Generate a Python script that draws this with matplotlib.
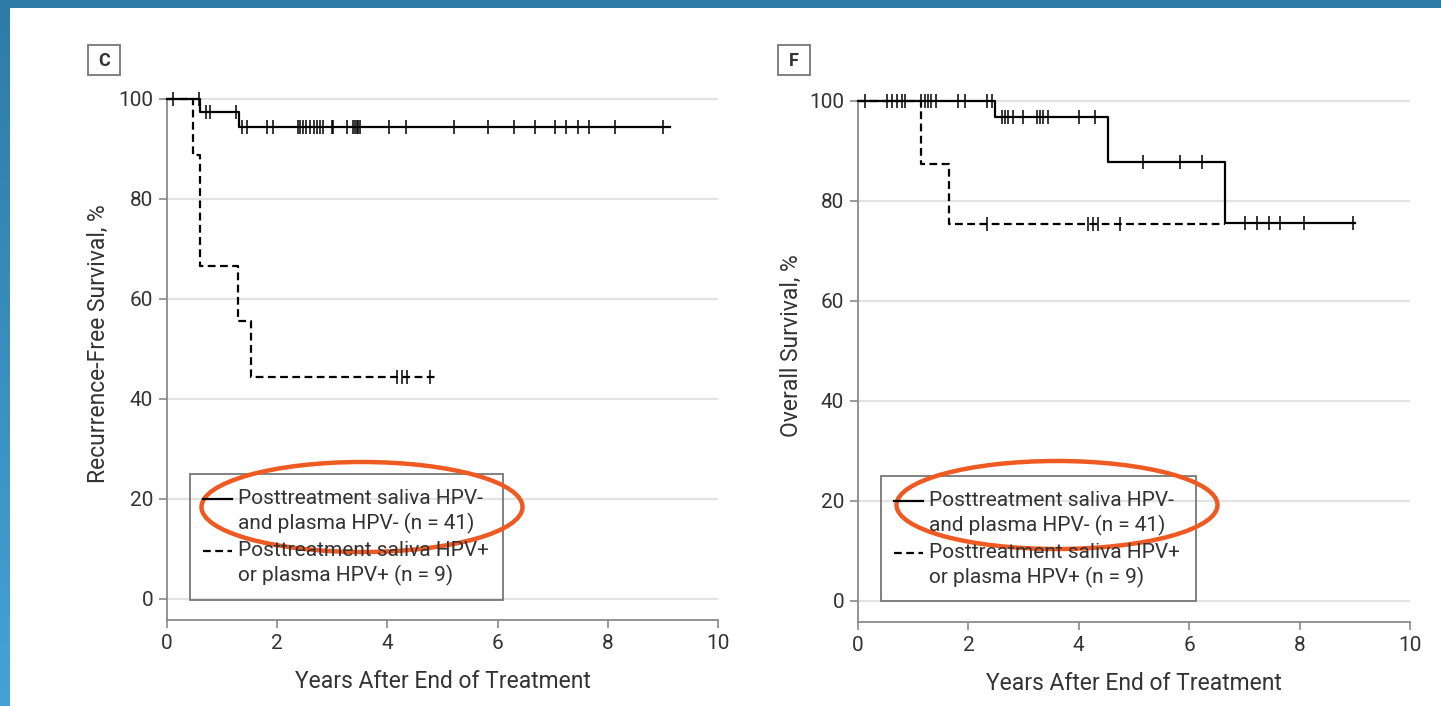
import numpy as np
import matplotlib
matplotlib.use("Agg")
import matplotlib.pyplot as plt
from matplotlib.patches import Ellipse, Rectangle
from matplotlib.colors import LinearSegmentedColormap

plt.rcParams['font.family'] = ['Liberation Sans Narrow', 'Roboto', 'DejaVu Sans']

# ---------------- data ----------------
x_ticks = [0, 2, 4, 6, 8, 10]
y_ticks = [0, 20, 40, 60, 80, 100]
xlabel = "Years After End of Treatment"
ylabel_c = "Recurrence-Free Survival, %"
ylabel_f = "Overall Survival, %"
label_neg = ["Posttreatment saliva HPV-", "and plasma HPV- (n = 41)"]
label_pos = ["Posttreatment saliva HPV+", "or plasma HPV+ (n = 9)"]

# Panel C, HPV- (solid)
c_neg_times = [0, 0.6, 1.3]
c_neg_surv = [100, 97.5, 94.4]
c_neg_end = 9.12
c_neg_censor = [0.1, 0.58, 0.7, 0.78, 1.25,
                1.37, 1.45, 1.81, 1.93, 2.38, 2.42, 2.47, 2.53, 2.59, 2.67, 2.72,
                2.78, 2.83, 2.99, 3.02, 3.26, 3.38, 3.41, 3.44, 3.47, 3.5, 4.02,
                4.33, 5.2, 5.83, 6.29, 6.68, 7.04, 7.25, 7.46, 7.65, 8.13, 9.01]
# Panel C, HPV+ (dashed)
c_pos_times = [0, 0.47, 0.6, 1.28, 1.53]
c_pos_surv = [100, 88.9, 66.7, 55.6, 44.4]
c_pos_end = 4.9
c_pos_censor = [4.17, 4.26, 4.35, 4.77]

# Panel F, HPV- (solid)
f_neg_times = [0, 2.48, 4.53, 6.65]
f_neg_surv = [100, 96.9, 87.9, 75.6]
f_neg_end = 9.0
f_neg_censor = [0.13, 0.52, 0.61, 0.70, 0.79, 0.85, 1.15, 1.21, 1.27, 1.33, 1.42,
                1.81, 1.94, 2.33, 2.42,
                2.6, 2.66, 2.72, 2.81, 2.99, 3.24, 3.3, 3.36, 3.45, 4.0, 4.3,
                5.17, 5.83, 6.24,
                7.01, 7.22, 7.45, 7.64, 8.08, 8.97]
# Panel F, HPV+ (dashed)
f_pos_times = [0, 1.14, 1.64]
f_pos_surv = [100, 87.5, 75.5]
f_pos_end = 6.65
f_pos_censor = [2.33, 4.17, 4.26, 4.35, 4.75]

W, H = 1441, 706
fig = plt.figure(figsize=(W / 100, H / 100), dpi=100)
fig.patch.set_facecolor('white')

TXT = '#333333'
AX = '#8a8a8a'
DASH = (3.5, 2)


def px_axes(x0, x1, ytop, ybot):
    return fig.add_axes([x0 / W, (H - ybot) / H, (x1 - x0) / W, (ybot - ytop) / H])


def km(ax, times, surv, end, censor, dashed):
    t = list(times) + [end]
    s = list(surv) + [surv[-1]]
    line, = ax.step(t, s, where='post', color='black', lw=1.6, clip_on=False, zorder=3)
    if dashed:
        line.set_dashes(DASH)
    idx = np.searchsorted(times, censor, side='right') - 1
    cy = np.array(surv)[idx]
    ax.plot(censor, cy, ls='none', marker='|', ms=10, mew=1.1, color='black',
            clip_on=False, zorder=4)


def setup(ax, ylabel, ylab_x):
    ax.set_xlim(0, 10)
    ax.set_ylim(-4.2, 103)
    ax.set_xticks(x_ticks)
    ax.set_yticks(y_ticks)
    for s in ['top', 'right']:
        ax.spines[s].set_visible(False)
    ax.spines['left'].set_bounds(-4.2, 100)
    for s in ['left', 'bottom']:
        ax.spines[s].set_color(AX)
        ax.spines[s].set_linewidth(1.3)
    ax.tick_params(direction='out', length=6, width=1.2, color=AX,
                   labelsize=15, labelcolor=TXT, pad=4)
    ax.yaxis.grid(True, color='#e2e2e2', lw=1.6)
    ax.set_axisbelow(True)
    ax.set_xlabel(xlabel, fontsize=16.5, color=TXT)
    ax.xaxis.set_label_coords(0.5, -0.093)
    ax.set_ylabel(ylabel, fontsize=16.5, color=TXT)
    ax.yaxis.set_label_coords(ylab_x, 0.515)


axC = px_axes(167, 718, 84, 620)
setup(axC, ylabel_c, -0.103)
km(axC, c_neg_times, c_neg_surv, c_neg_end, c_neg_censor, False)
km(axC, c_pos_times, c_pos_surv, c_pos_end, c_pos_censor, True)

axF = px_axes(858, 1410, 86, 622)
setup(axF, ylabel_f, -0.100)
km(axF, f_neg_times, f_neg_surv, f_neg_end, f_neg_censor, False)
km(axF, f_pos_times, f_pos_surv, f_pos_end, f_pos_censor, True)

# overlay in pixel coordinates
ov = fig.add_axes([0, 0, 1, 1], zorder=10)
ov.axis('off')
ov.patch.set_alpha(0)

# frame bars
ov.add_patch(Rectangle((0, 0), W, 8, color='#2E7BA8', lw=0))
grad = np.linspace(0, 1, 256).reshape(-1, 1)
cm = LinearSegmentedColormap.from_list('b', ['#2E7BA8', '#45A2D6'])
ov.imshow(grad, cmap=cm, extent=(0, 10, H, 0), aspect='auto', origin='upper')
ov.set_xlim(0, W)
ov.set_ylim(H, 0)

# panel labels
for cx, letter in [(104, 'C'), (794, 'F')]:
    ov.add_patch(Rectangle((cx - 16, 45), 32, 30, fill=False, ec='#777777', lw=1.3))
    ov.text(cx, 60.5, letter, ha='center', va='center', fontsize=13,
            fontweight='bold', color=TXT)

# legends (drawn in pixel coordinates)
for (bx0, by0, bx1, by1) in [(190, 474, 503, 600), (881, 476, 1196, 601)]:
    ov.add_patch(Rectangle((bx0, by0), bx1 - bx0, by1 - by0, fill=False,
                           ec='#777777', lw=1.3))
    hx0, hx1, tx = bx0 + 13, bx0 + 42, bx0 + 48
    y1 = by0 + 25
    rows = [(y1, label_neg, False), (y1 + 52, label_pos, True)]
    for yy, lab, dashed in rows:
        ln, = ov.plot([hx0, hx1], [yy, yy], color='black', lw=1.6)
        if dashed:
            ln.set_dashes(DASH)
        ov.text(tx, yy, lab[0], ha='left', va='center', fontsize=15, color=TXT)
        ov.text(tx, yy + 24, lab[1], ha='left', va='center', fontsize=15, color=TXT)

# highlight ellipses
for cx, cy, w, h in [(362, 507, 321, 90), (1057, 505, 321, 88)]:
    ov.add_patch(Ellipse((cx, cy), w, h, fill=False, ec='#EF5A22', lw=3.2))

ov.set_xlim(0, W)
ov.set_ylim(H, 0)
fig.savefig('out.png', dpi=100)
